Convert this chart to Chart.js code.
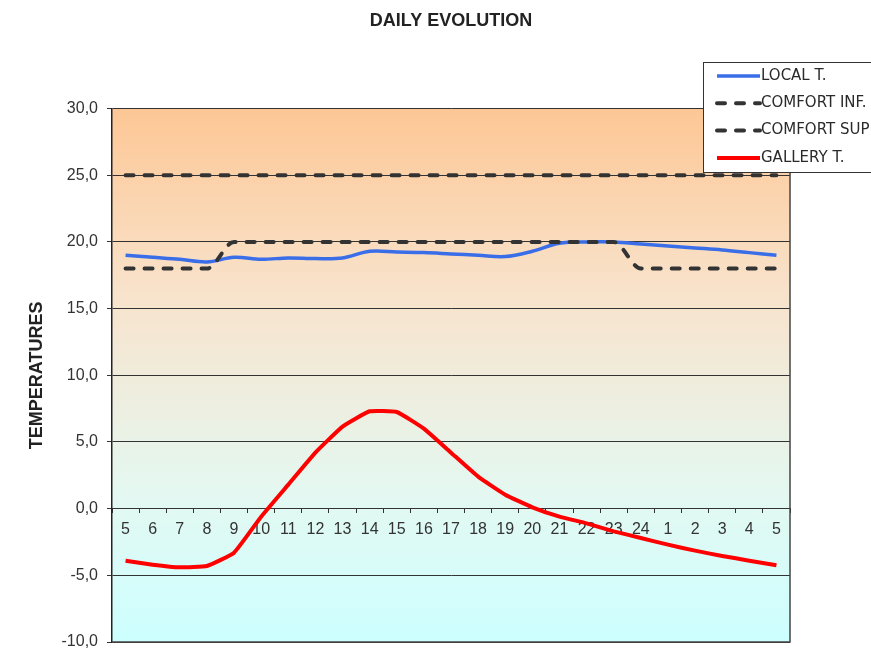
<!DOCTYPE html>
<html>
<head>
<meta charset="utf-8">
<script src="https://cdn.jsdelivr.net/npm/chart.js@4.4.1/dist/chart.umd.min.js"></script>
<style>
  html, body { margin: 0; padding: 0; background: #fff; }
  #wrap { width: 871px; height: 654px; position: relative; }
</style>
</head>
<body>
<div id="wrap"><canvas id="myChart" width="871" height="654"></canvas></div>
<script>
// hours of the day (5h to 5h next morning)
const hours = ['5', '6', '7', '8', '9', '10', '11', '12', '13', '14', '15', '16', '17', '18', '19', '20', '21', '22', '23', '24', '1', '2', '3', '4', '5'];

const localT = [19.0, 18.85, 18.7, 18.5, 18.85, 18.7, 18.8, 18.75, 18.8, 19.3, 19.25, 19.2, 19.1, 19.0, 18.9, 19.3, 19.9, 20.0, 20.0, 19.85, 19.7, 19.55, 19.4, 19.2, 19.0];
const comfortInf = [18, 18, 18, 18, 20, 20, 20, 20, 20, 20, 20, 20, 20, 20, 20, 20, 20, 20, 20, 18, 18, 18, 18, 18, 18];
const comfortSup = [25, 25, 25, 25, 25, 25, 25, 25, 25, 25, 25, 25, 25, 25, 25, 25, 25, 25, 25, 25, 25, 25, 25, 25, 25];
const galleryT = [-3.9, -4.2, -4.4, -4.3, -3.3, -0.6, 1.8, 4.2, 6.15, 7.3, 7.25, 6.0, 4.2, 2.4, 1.05, 0.1, -0.6, -1.1, -1.7, -2.2, -2.7, -3.15, -3.55, -3.9, -4.25];

const yMin = -10, yMax = 30, yStep = 5;

//background gradient + frame
const plotBg = {
    id: 'plotBg',
    beforeDraw(chart) {
        const {ctx, chartArea: a} = chart;
        let g = ctx.createLinearGradient(0, a.top, 0, a.bottom);
        g.addColorStop(0, '#fdc795');
        g.addColorStop(0.35, '#f8e3cc');
        g.addColorStop(0.72, '#e4f8f1');
        g.addColorStop(1, '#ccffff');
        ctx.save();
        ctx.fillStyle = g;
        ctx.fillRect(a.left, a.top, a.right - a.left, a.bottom - a.top);
        ctx.restore();
    },
    afterDraw(chart) {
        const {ctx, chartArea: a} = chart;
        ctx.save();
        ctx.strokeStyle = '#444';
        ctx.lineWidth = 1.5;
        ctx.beginPath();
        ctx.moveTo(a.right, a.top);
        ctx.lineTo(a.right, a.bottom);
        ctx.lineTo(a.left, a.bottom);
        ctx.stroke();
        ctx.restore();
    }
};

//legend box in the top right corner
const boxLegend = {
    id: 'boxLegend',
    afterDraw(chart) {
        const ctx = chart.ctx;
        const x = 703, y = 62, w = 190, h = 110;
        ctx.save();
        ctx.fillStyle = '#fff';
        ctx.fillRect(x, y, w, h);
        ctx.strokeStyle = '#333';
        ctx.lineWidth = 1;
        ctx.strokeRect(x + 0.5, y + 0.5, w, h);
        ctx.font = '15px "DejaVu Sans", sans-serif';
        ctx.textBaseline = 'middle';
        chart.data.datasets.forEach(function(ds, i) {
            let ly = y + 14 + i * 27.3;
            ctx.strokeStyle = ds.borderColor;
            ctx.lineWidth = ds.borderWidth;
            ctx.lineCap = ds.borderDash ? 'round' : 'butt';
            ctx.setLineDash(ds.borderDash || []);
            ctx.beginPath();
            ctx.moveTo(x + 14, ly);
            ctx.lineTo(x + 57, ly);
            ctx.stroke();
            ctx.setLineDash([]);
            ctx.fillStyle = '#2a2a2a';
            ctx.fillText(ds.label, x + 58, ly);
        });
        ctx.restore();
    }
};

let ctx = document.getElementById('myChart').getContext('2d');
let chart = new Chart(ctx, {
    type: 'line',
    data: {
        labels: hours,
        datasets: [{
            label: 'LOCAL T.',
            data: localT,
            borderColor: '#3a6ee8',
            borderWidth: 3.5,
            tension: 0.35,
            order: 3
        }, {
            label: 'COMFORT INF.',
            data: comfortInf,
            borderColor: '#333333',
            borderWidth: 4,
            borderDash: [8, 11],
            borderCapStyle: 'round',
            cubicInterpolationMode: 'monotone',
            order: 1
        }, {
            label: 'COMFORT SUP',
            data: comfortSup,
            borderColor: '#333333',
            borderWidth: 4,
            borderDash: [8, 11],
            borderCapStyle: 'round',
            tension: 0,
            order: 2
        }, {
            label: 'GALLERY T.',
            data: galleryT,
            borderColor: '#ff0000',
            borderWidth: 4,
            tension: 0.12,
            order: 0
        }]
    },
    options: {
        responsive: false,
        animation: false,
        layout: { padding: { left: 0, right: 81, top: 0, bottom: 12 } },
        elements: { point: { radius: 0 } },
        plugins: {
            legend: { display: false },
            tooltip: { enabled: false },
            title: {
                display: true,
                text: 'DAILY EVOLUTION',
                fullSize: false,
                color: '#222',
                font: { family: '"Liberation Sans", Arial, sans-serif', size: 18, weight: 'bold' },
                padding: { top: 10, bottom: 77 }
            }
        },
        scales: {
            x: {
                position: { y: 0 },
                offset: true,
                afterFit: function(scale) { scale.paddingLeft = 0; scale.paddingRight = 0; },
                grid: {
                    offset: true,
                    drawOnChartArea: false,
                    drawTicks: true,
                    tickLength: 4,
                    color: '#333'
                },
                border: { display: true, color: '#333', width: 1 },
                ticks: {
                    autoSkip: false,
                    maxRotation: 0,
                    padding: 7,
                    color: '#333',
                    font: { family: '"Liberation Sans", Arial, sans-serif', size: 16 }
                }
            },
            y: {
                min: yMin,
                max: yMax,
                afterFit: function(scale) {
                    scale.width = 112;
                    scale.paddingTop = 0;
                    scale.paddingBottom = 0;
                },
                grid: {
                    color: '#333',
                    lineWidth: 1,
                    tickLength: 5
                },
                border: { display: true, color: '#222', width: 1.5 },
                ticks: {
                    stepSize: yStep,
                    padding: 9,
                    color: '#333',
                    font: { family: '"Liberation Sans", Arial, sans-serif', size: 16 },
                    callback: function(v) { return v.toFixed(1).replace('.', ','); }
                },
                title: {
                    display: true,
                    text: 'TEMPERATURES',
                    color: '#222',
                    font: { family: '"Liberation Sans", Arial, sans-serif', size: 18, weight: 'bold' },
                    padding: { top: 26, bottom: 0 }
                }
            }
        }
    },
    plugins: [plotBg, boxLegend]
});
</script>
</body>
</html>
